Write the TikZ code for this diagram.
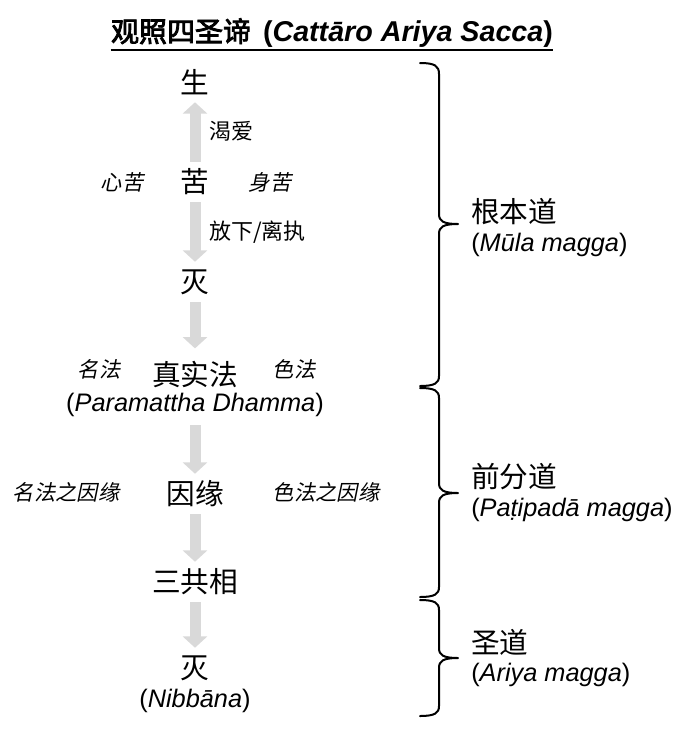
\documentclass[tikz,border=0pt]{standalone}
\usepackage{fontspec}
\setmainfont{Liberation Sans}
\newfontfamily\cjk{Noto Sans CJK SC}
\newfontfamily\cjkit{Noto Sans CJK SC}[FakeSlant=0.2]
\newfontfamily\cjkbf{Noto Sans CJK SC}[FakeBold=3]
\usetikzlibrary{arrows.meta}
\definecolor{flowgray}{HTML}{D9D9D9}

\begin{document}
\begin{tikzpicture}[
    x=0.75pt, y=-0.75pt,
    term/.style={font=\cjk\fontsize{21.5}{26}\selectfont, inner sep=0pt, minimum height=27pt},
    pali/.style={font=\fontsize{19}{23}\selectfont, inner sep=0pt},
    side/.style={font=\cjkit\fontsize{16}{19}\selectfont, inner sep=0pt},
    note/.style={font=\cjk\fontsize{16.5}{19}\selectfont, inner sep=0pt, anchor=west},
    flow/.style={
        draw=flowgray, line width=8.25pt,
        -{Triangle[width=18pt, length=8.5pt]},
        shorten <=1.5pt, shorten >=1.5pt
    },
    brace/.style={line width=1.5pt, line join=round, line cap=round},
]
\useasboundingbox (0,0) rectangle (686,729);

% Title
\node[inner sep=0pt] (title) at (332,33)
    {{\cjkbf\fontsize{21}{25}\selectfont 观照四圣谛}\hspace{9pt}{\fontsize{21.5}{26}\selectfont\bfseries(\textit{Cattāro Ariya Sacca})}};
\draw[line width=2pt] ([yshift=-1.5pt]title.south west) -- ([yshift=-1.5pt]title.south east);

% Main column
\node[term] (sheng) at (195,82) {生};
\node[term] (ku) at (195,182) {苦};
\node[term] (mie) at (195,282) {灭};
\node[term] (zhenshi) at (195,374) {真实法};
\node[pali, minimum height=27pt] (param) at (195,405) {(\textit{Paramattha Dhamma})};
\node[term] (yinyuan) at (195,494) {因缘};
\node[term] (sangong) at (195,582) {三共相};
\node[term] (niepan) at (195,668) {灭};
\node[pali] (nibbana) at (195,701) {(\textit{Nibbāna})};

% Side labels
\node[side] (xinku) at (122,182) {心苦};
\node[side] (shenku) at (270,182) {身苦};
\node[side] (mingfa) at (99,369) {名法};
\node[side] (sefa) at (294,369) {色法};
\node[side] (mingyin) at (66,492) {名法之因缘};
\node[side] (seyin) at (326,492) {色法之因缘};

% Arrow labels
\node[note] (kean) at (209,131) {渴爱};
\node[note] (fangxia) at (209,232) {放下/离执};

% Arrows
\draw[flow] (ku) -- (sheng);
\draw[flow] (ku) -- (mie);
\draw[flow, shorten >=5.5pt] (mie) -- (zhenshi);
\draw[flow] (param) -- (yinyuan);
\draw[flow] (yinyuan) -- (sangong);
\draw[flow] (sangong) -- (niepan);

% Braces
\draw[brace] (420,63) .. controls (435,63) and (439,66) .. (439,74) -- (439,214)
    .. controls (439,221) and (443,224) .. (458,224)
    .. controls (443,224) and (439,227) .. (439,234) -- (439,376)
    .. controls (439,383) and (435,386) .. (420,386);
\draw[brace] (420,388) .. controls (435,388) and (439,391) .. (439,398) -- (439,483)
    .. controls (439,490) and (443,493) .. (458,493)
    .. controls (443,493) and (439,496) .. (439,503) -- (439,587)
    .. controls (439,594) and (435,597) .. (420,597);
\draw[brace] (420,600) .. controls (435,600) and (439,603) .. (439,610) -- (439,648)
    .. controls (439,655) and (443,658) .. (458,658)
    .. controls (443,658) and (439,661) .. (439,668) -- (439,706)
    .. controls (439,713) and (435,716) .. (420,716);

% Path labels
\node[term, anchor=west, minimum height=0pt] (genben) at (471,212) {根本道};
\node[pali, anchor=west] (mula) at (471,245) {(\textit{Mūla magga})};
\node[term, anchor=west, minimum height=0pt] (qianfen) at (471,477) {前分道};
\node[pali, anchor=west] (patipada) at (471,510) {(\textit{Paṭipadā magga})};
\node[term, anchor=west, minimum height=0pt] (shengdao) at (471,642) {圣道};
\node[pali, anchor=west] (ariya) at (471,675) {(\textit{Ariya magga})};

\end{tikzpicture}
\end{document}
